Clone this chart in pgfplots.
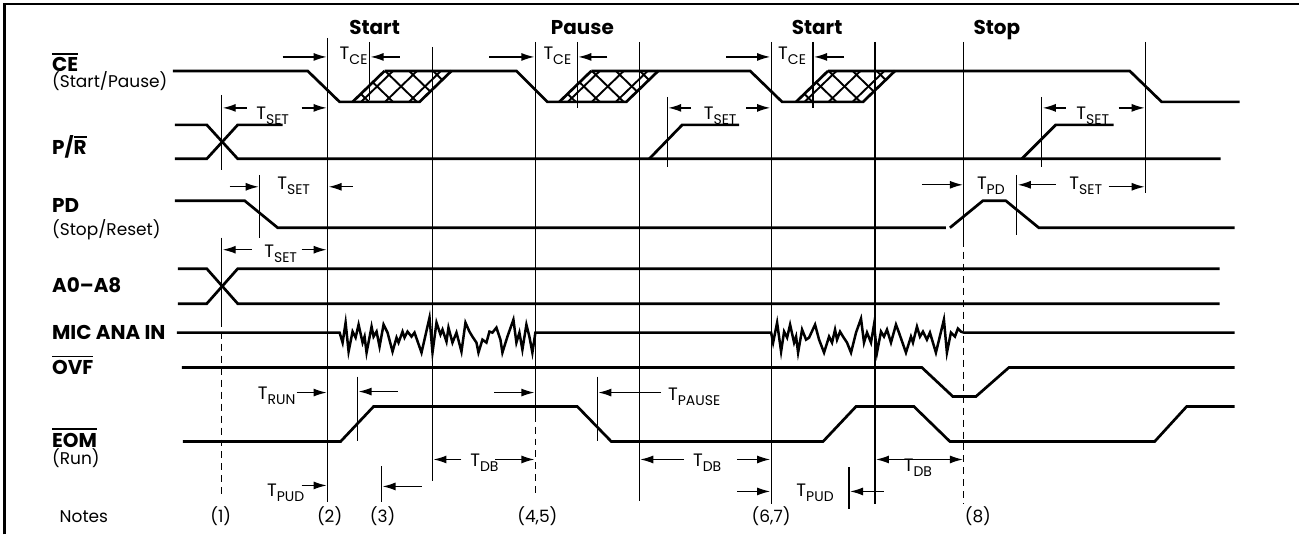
\documentclass[border=0pt]{standalone}
\usepackage{fontspec}
\setmainfont{Poppins}
\usepackage{pgfplots}
\pgfplotsset{compat=1.18}
\usetikzlibrary{arrows.meta}
\pgfplotsset{
  wave/.style={black, line width=2.7pt, no markers, line join=miter},
  thinl/.style={black, line width=1.2pt, no markers},
  dashl/.style={black, line width=1.2pt, no markers, dash pattern=on 7pt off 5pt},
  arr/.style={black, line width=1.3pt, no markers, -{Latex[length=13pt,width=8pt]}},
  darr/.style={black, line width=1.3pt, no markers, {Latex[length=13pt,width=8pt]}-{Latex[length=13pt,width=8pt]}},
  hatch/.style={black, line width=1.9pt, no markers},
  frame/.style={black, line width=3pt, no markers},
}
\newcommand\lab[1]{\fontsize{20}{22}\selectfont\bfseries #1}
\newcommand\reg[1]{\fontsize{17}{19}\selectfont #1}
\newcommand\Ts[1]{\fontsize{18}{20}\selectfont T\raisebox{-5pt}{\fontsize{14}{14}\selectfont #1}}
\newcommand\ovl[1]{\vbox{\hrule height 1.8pt\kern 3pt\hbox{#1}}}
\begin{document}
\begin{tikzpicture}
\begin{axis}[hide axis, scale only axis, width=1300pt, height=535pt,
  xmin=0, xmax=1300, ymin=0, ymax=535, y dir=reverse, clip=false]
\path (rel axis cs:0,0) rectangle (rel axis cs:1,1);
% frame
\addplot[frame] coordinates {(5,535)(5,4)(1300,4)};
% ---------------- CE
\addplot[wave] coordinates {(173,71)(308,71)(340,102)(420,102)(452,71)};
\addplot[wave] coordinates {(353,102)(385,71)};
\addplot[wave] coordinates {(385,71)(517,71)(548,102)(627,102)(659,71)};
\addplot[wave] coordinates {(560,102)(592,71)};
\addplot[wave] coordinates {(592,71)(751,71)(783,102)(864,102)(896,71)};
\addplot[wave] coordinates {(797,102)(829,71)};
\addplot[wave] coordinates {(829,71)(1131,71)(1163,102)(1241,102)};
% hatch 1
\addplot[hatch] coordinates {(361.5,102)(393.5,71)};
\addplot[hatch] coordinates {(385.5,102)(417.5,71)};
\addplot[hatch] coordinates {(409.5,102)(441.5,71)};
\addplot[hatch] coordinates {(369.5,102)(361.25,94)};
\addplot[hatch] coordinates {(393.5,102)(373.25,82.4)};
\addplot[hatch] coordinates {(417.5,102)(385.5,71)};
\addplot[hatch] coordinates {(430.75,91.6)(409.5,71)};
\addplot[hatch] coordinates {(442.75,80)(433.5,71)};
% hatch 2
\addplot[hatch] coordinates {(568.5,102)(600.5,71)};
\addplot[hatch] coordinates {(592.5,102)(624.5,71)};
\addplot[hatch] coordinates {(616.5,102)(648.5,71)};
\addplot[hatch] coordinates {(576.5,102)(568.25,94)};
\addplot[hatch] coordinates {(600.5,102)(580.25,82.4)};
\addplot[hatch] coordinates {(624.5,102)(592.5,71)};
\addplot[hatch] coordinates {(637.75,91.6)(616.5,71)};
\addplot[hatch] coordinates {(649.75,80)(640.5,71)};
% hatch 3
\addplot[hatch] coordinates {(805.5,102)(837.5,71)};
\addplot[hatch] coordinates {(829.5,102)(861.5,71)};
\addplot[hatch] coordinates {(853.5,102)(885.5,71)};
\addplot[hatch] coordinates {(813.5,102)(805.25,94)};
\addplot[hatch] coordinates {(837.5,102)(817.25,82.4)};
\addplot[hatch] coordinates {(861.5,102)(829.5,71)};
\addplot[hatch] coordinates {(874.75,91.6)(853.5,71)};
\addplot[hatch] coordinates {(886.75,80)(877.5,71)};
% ---------------- P/R
\addplot[wave] coordinates {(175,125)(207,125)(238,159)(1222,159)};
\addplot[wave] coordinates {(175,159)(207,159)(238,125)(283,125)};
\addplot[wave] coordinates {(650,159)(683,125)(740,125)};
\addplot[wave] coordinates {(1023,159)(1057,125)(1115,125)};
% ---------------- PD
\addplot[wave] coordinates {(175,201)(245,201)(278,228)(947,228)};
\addplot[wave] coordinates {(951,228)(984,201)(1007,201)(1040,228)(1236,228)};
% ---------------- A0-A8
\addplot[wave] coordinates {(178,269)(207,269)(238,304)(1221,304)};
\addplot[wave] coordinates {(178,304)(207,304)(238,269)(1221,269)};
% ---------------- MIC ANA IN
\addplot[wave, line width=2.5pt] coordinates {(177,333)(337,333)(340,333)(343,343)(346,323)(349,352)(353,332)(356,338)(359,325)(363,343)(365,337)(367,353)(372,327)(374,337)(377,332)(380,347)(384,325)(388,333)(393,352)(397,338)(399,343)(403,332)(405,338)(408,332)(412,337)(415,333)(422,353)(430,318)(433,353)(437,323)(441,335)(443,330)(447,342)(449,328)(453,343)(457,333)(462,352)(466,323)(470,332)(473,337)(477,343)(479,353)(483,340)(487,343)(490,332)(493,333)(497,328)(501,340)(503,353)(508,337)(514,320)(517,343)(520,333)(523,350)(527,325)(530,337)(533,353)(536,333)(772,333)(774,343)(778,323)(782,352)(785,332)(788,338)(791,325)(795,343)(797,337)(799,353)(803,330)(807,340)(810,338)(816,325)(820,340)(825,353)(830,337)(833,343)(836,330)(838,340)(841,332)(844,337)(848,343)(852,353)(857,333)(862,319)(865,343)(868,333)(872,343)(875,325)(878,353)(882,332)(885,337)(888,330)(892,343)(897,325)(900,333)(907,353)(912,337)(914,343)(918,327)(921,337)(924,332)(928,340)(931,333)(937,353)(945,320)(948,353)(952,333)(956,337)(959,329)(962,332)(965,333)(1236,333)};
% ---------------- OVF
\addplot[wave] coordinates {(182,368)(923,368)(954,397)(977,397)(1010,368)(1236,368)};
% ---------------- EOM
\addplot[wave] coordinates {(183,442)(341,442)(374,407)(578,407)(612,442)(824,442)(857,407)(915,407)(951,442)(1156,442)(1188,407)(1236,407)};
% ---------------- vertical reference lines
\addplot[thinl] coordinates {(222,95)(222,170)};
\addplot[thinl] coordinates {(222,238)(222,320)};
\addplot[dashl] coordinates {(222,320)(222,497)};
\addplot[thinl] coordinates {(260,175)(260,238)};
\addplot[thinl] coordinates {(328,38)(328,503)};
\addplot[thinl] coordinates {(370,42)(370,100)};
\addplot[thinl] coordinates {(358,377)(358,442)};
\addplot[thinl] coordinates {(382,467)(382,503)};
\addplot[thinl] coordinates {(433,47)(433,482)};
\addplot[thinl] coordinates {(536,42)(536,415)};
\addplot[dashl] coordinates {(536,415)(536,497)};
\addplot[thinl] coordinates {(578,42)(578,108)};
\addplot[thinl] coordinates {(598,377)(598,442)};
\addplot[thinl] coordinates {(640,42)(640,502)};
\addplot[thinl] coordinates {(668,97)(668,167)};
\addplot[thinl] coordinates {(772,42)(772,505)};
\addplot[thinl] coordinates {(814,42)(814,108)};
\addplot[thinl] coordinates {(850,468)(850,510)};
\addplot[thinl] coordinates {(876,42)(876,505)};
\addplot[thinl] coordinates {(965,42)(965,240)};
\addplot[dashl] coordinates {(965,240)(965,505)};
\addplot[thinl] coordinates {(1018,175)(1018,235)};
\addplot[thinl] coordinates {(1043,97)(1043,167)};
\addplot[thinl] coordinates {(1147,42)(1147,193)};
% ---------------- arrows
\addplot[arr] coordinates {(283,57)(327,57)};
\addplot[arr] coordinates {(490,57)(535,57)};
\addplot[arr] coordinates {(727,57)(771,57)};
\addplot[arr] coordinates {(302,108)(327,108)};
\addplot[arr] coordinates {(747,108)(771,108)};
\addplot[arr] coordinates {(1120,108)(1146,108)};
\addplot[arr] coordinates {(230,187)(259,187)};
\addplot[arr] coordinates {(923,185)(964,185)};
\addplot[arr] coordinates {(1110,187)(1146,187)};
\addplot[arr] coordinates {(302,250)(327,250)};
\addplot[arr] coordinates {(297,393)(327,393)};
\addplot[arr] coordinates {(302,486)(327,486)};
\addplot[arr] coordinates {(496,460)(535,460)};
\addplot[arr] coordinates {(495,393)(535,393)};
\addplot[arr] coordinates {(738,460)(771,460)};
\addplot[arr] coordinates {(738,492)(771,492)};
\addplot[darr] coordinates {(877,460)(964,460)};
\addplot[arr] coordinates {(400,57)(371,57)};
\addplot[arr] coordinates {(608,57)(579,57)};
\addplot[arr] coordinates {(845,57)(815,57)};
\addplot[arr] coordinates {(247,108)(223,108)};
\addplot[arr] coordinates {(692,108)(669,108)};
\addplot[arr] coordinates {(1067,108)(1044,108)};
\addplot[arr] coordinates {(353,187)(329,187)};
\addplot[arr] coordinates {(1057,185)(1019,185)};
\addplot[arr] coordinates {(252,250)(223,250)};
\addplot[arr] coordinates {(398,392)(359,392)};
\addplot[arr] coordinates {(422,487)(383,487)};
\addplot[arr] coordinates {(462,460)(434,460)};
\addplot[arr] coordinates {(662,393)(599,393)};
\addplot[arr] coordinates {(685,460)(641,460)};
\addplot[arr] coordinates {(885,492)(851,492)};
% ---------------- headings
\node[anchor=base] at (axis cs:375,35) {\lab{Start}};
\node[anchor=base] at (axis cs:583,35) {\lab{Pause}};
\node[anchor=base] at (axis cs:818,35) {\lab{Start}};
\node[anchor=base] at (axis cs:998,35) {\lab{Stop}};
% ---------------- signal labels
\node[anchor=base west, inner sep=0pt] at (axis cs:52,72) {\lab{\ovl{CE}}};
\node[anchor=base west, inner sep=0pt] at (axis cs:52,88) {\reg{(Start/Pause)}};
\node[anchor=base west, inner sep=0pt] at (axis cs:52,155) {\lab{P/\ovl{R}}};
\node[anchor=base west, inner sep=0pt] at (axis cs:52,213) {\lab{PD}};
\node[anchor=base west, inner sep=0pt] at (axis cs:52,236) {\reg{(Stop/Reset)}};
\node[anchor=base west, inner sep=0pt] at (axis cs:52,293) {\lab{A0–A8}};
\node[anchor=base west, inner sep=0pt] at (axis cs:52,340) {\lab{MIC ANA IN}};
\node[anchor=base west, inner sep=0pt] at (axis cs:52,375) {\lab{\ovl{OVF}}};
\node[anchor=base west, inner sep=0pt] at (axis cs:52,448) {\lab{\ovl{EOM}}};
\node[anchor=base west, inner sep=0pt] at (axis cs:52,465) {\reg{(Run)}};
% ---------------- timing labels
\node[anchor=base] at (axis cs:354,60) {\Ts{CE}};
\node[anchor=base] at (axis cs:558,60) {\Ts{CE}};
\node[anchor=base] at (axis cs:793,60) {\Ts{CE}};
\node[anchor=base] at (axis cs:273,120) {\Ts{SET}};
\node[anchor=base] at (axis cs:721,120) {\Ts{SET}};
\node[anchor=base] at (axis cs:1094,120) {\Ts{SET}};
\node[anchor=base] at (axis cs:294,190) {\Ts{SET}};
\node[anchor=base] at (axis cs:281,258) {\Ts{SET}};
\node[anchor=base] at (axis cs:992,190) {\Ts{PD}};
\node[anchor=base] at (axis cs:1087,190) {\Ts{SET}};
\node[anchor=base] at (axis cs:277,400) {\Ts{RUN}};
\node[anchor=base] at (axis cs:286,497) {\Ts{PUD}};
\node[anchor=base] at (axis cs:485,467) {\Ts{DB}};
\node[anchor=base] at (axis cs:695,401) {\Ts{PAUSE}};
\node[anchor=base] at (axis cs:708,467) {\Ts{DB}};
\node[anchor=base] at (axis cs:816,497) {\Ts{PUD}};
\node[anchor=base] at (axis cs:919,472) {\Ts{DB}};
% ---------------- notes
\node[anchor=base] at (axis cs:84,523) {\reg{Notes}};
\node[anchor=base] at (axis cs:221,523) {\reg{(1)}};
\node[anchor=base] at (axis cs:330,523) {\reg{(2)}};
\node[anchor=base] at (axis cs:383,523) {\reg{(3)}};
\node[anchor=base] at (axis cs:538,523) {\reg{(4,5)}};
\node[anchor=base] at (axis cs:772,523) {\reg{(6,7)}};
\node[anchor=base] at (axis cs:979,523) {\reg{(8)}};
\end{axis}
\end{tikzpicture}
\end{document}
